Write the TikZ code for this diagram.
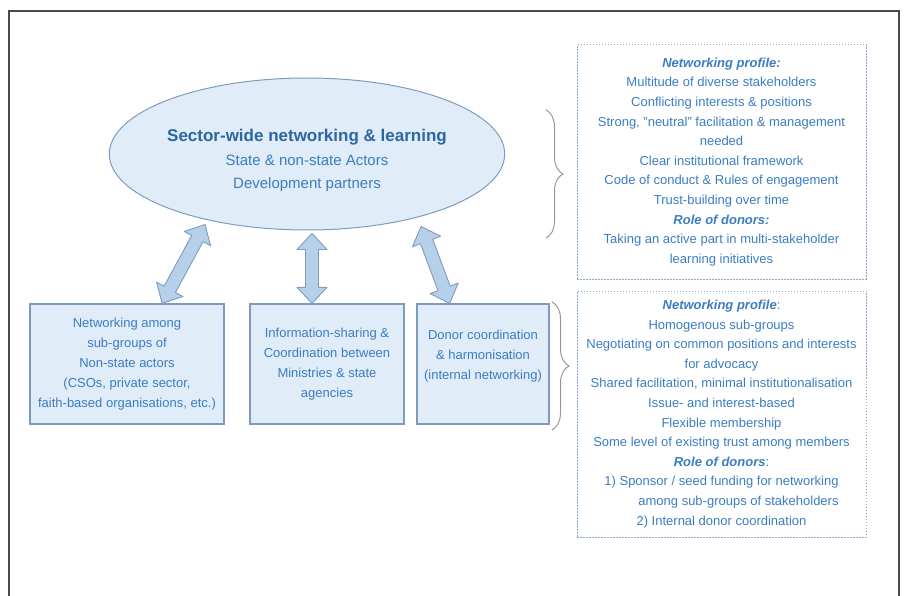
\documentclass[tikz,border=0pt]{standalone}
\usepackage{fontspec}
\setmainfont{Liberation Sans}
\usepackage{tikz}
\usetikzlibrary{calc,positioning,shapes.geometric,decorations.pathreplacing}
\usepackage{xcolor}
\definecolor{mtext}{HTML}{3A7DC2}
\definecolor{mtitle}{HTML}{2A67A3}
\definecolor{mfill}{HTML}{E0ECF8}
\definecolor{mline}{HTML}{7D9CBD}
\definecolor{marrow}{HTML}{B7D0EA}
\definecolor{mdot}{HTML}{88A8CE}
\definecolor{mframe}{HTML}{4A4A4A}
\tikzstyle{frame}=[draw=mframe, line width=1.6]
\tikzstyle{hubnode}=[ellipse, draw=mline, fill=mfill, line width=1, minimum width=384pt, minimum height=152pt, inner sep=0, align=center, text=mtext, font=\fontsize{15}{23.5}\selectfont]
\tikzstyle{subbox}=[rectangle, draw=mline, fill=mfill, line width=1.2, minimum height=120pt, inner sep=2pt, align=center, text=mtext, font=\fontsize{13}{20}\selectfont]
\tikzstyle{profile}=[rectangle, draw=mdot, line width=1, dash pattern=on 1.5pt off 1.5pt, minimum width=289pt, align=center, text=mtext, font=\fontsize{13}{19.6}\selectfont]
\tikzstyle{arrowbody}=[draw=mline, fill=marrow, line width=0.9, line join=round]
\tikzstyle{bracket}=[draw=black!40, line width=1, decorate, decoration={brace, amplitude=17pt}]
% fat double arrow between two named coordinates
\newcommand{\fatarrow}[2]{%
  \coordinate (#1h) at ($(#1)!16pt!(#2)$);
  \coordinate (#2h) at ($(#2)!16pt!(#1)$);
  \path[arrowbody] (#1) -- ($(#1h)!15pt!90:(#2)$) -- ($(#1h)!6.5pt!90:(#2)$)
    -- ($(#2h)!6.5pt!-90:(#1)$) -- ($(#2h)!15pt!-90:(#1)$) -- (#2)
    -- ($(#2h)!15pt!90:(#1)$) -- ($(#2h)!6.5pt!90:(#1)$)
    -- ($(#1h)!6.5pt!-90:(#2)$) -- ($(#1h)!15pt!-90:(#2)$) -- cycle;}

\begin{document}
\begin{tikzpicture}[x=1pt, y=-1pt]
    \useasboundingbox (0,0) rectangle (905,596);
    \draw[frame] (9,596) -- (9,11) -- (899,11) -- (899,596);

    \node[hubnode] at (307,154) (hub) {\rule{0pt}{26pt}{\fontsize{17}{23.5}\selectfont\bfseries\color{mtitle}Sector-wide networking \& learning}\\
        State \& non-state Actors\\ Development partners};

    \node[subbox, minimum width=194pt] at (127,364) (nsa) {Networking among\\ sub-groups of\\ Non-state actors\\
        (CSOs, private sector,\\ faith-based organisations, etc.)};
    \node[subbox, minimum width=154pt] at (327,364) (info) {Information-sharing \&\\ Coordination between\\
        Ministries \& state\\ agencies};
    \node[subbox, minimum width=132pt, text depth=19pt] at (483,364) (donor) {Donor coordination\\ \& harmonisation\\
        (internal networking)};

    \node[profile, minimum height=234pt] at (721.5,162) (wide) {\textbf{\textit{Networking profile:}}\\
        Multitude of diverse stakeholders\\ Conflicting interests \& positions\\
        Strong, ''neutral'' facilitation \& management\\ needed\\ Clear institutional framework\\
        Code of conduct \& Rules of engagement\\ Trust-building over time\\
        \textbf{\textit{Role of donors:}}\\ Taking an active part in multi-stakeholder\\ learning initiatives};
    \node[profile, minimum height=246pt] at (721.5,414) (sub) {\textbf{\textit{Networking profile}}:\\
        Homogenous sub-groups\\ Negotiating on common positions and interests\\ for advocacy\\
        Shared facilitation, minimal institutionalisation\\ Issue- and interest-based\\
        Flexible membership\\ Some level of existing trust among members\\
        \textbf{\textit{Role of donors}}:\\ 1) Sponsor / seed funding for networking\\
        \hspace*{34pt}among sub-groups of stakeholders\\ 2) Internal donor coordination};

    % arrows
    \coordinate (a1s) at ($(hub.south)+(-102,-6)$);
    \coordinate (a1e) at ($(nsa.north west)!0.68!(nsa.north east)$);
    \coordinate (a2s) at ($(hub.south)+(5,3)$);
    \coordinate (a2e) at (a2s |- info.north);
    \coordinate (a3s) at ($(hub.south)+(114,-4)$);
    \coordinate (a3e) at ($(donor.north west)!0.25!(donor.north east)$);
    \fatarrow{a1s}{a1e}
    \fatarrow{a2s}{a2e}
    \fatarrow{a3s}{a3e}

    % braces
    \coordinate (b1t) at (546,110);
    \coordinate (b1b) at (546,238);
    \coordinate (b2t) at (552,302);
    \coordinate (b2b) at (552,430);
    \draw[bracket] (b1t) -- (b1b);
    \draw[bracket] (b2t) -- (b2b);
\end{tikzpicture}
\end{document}
